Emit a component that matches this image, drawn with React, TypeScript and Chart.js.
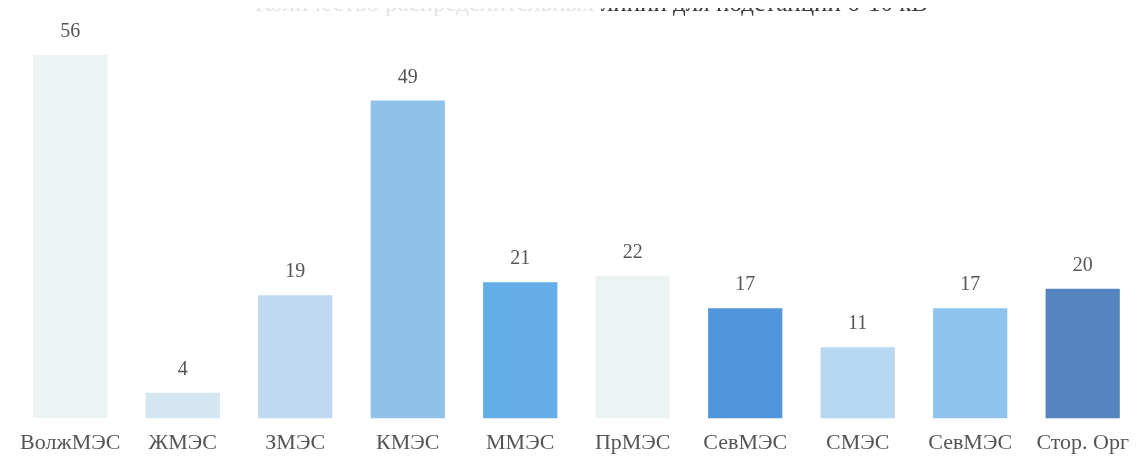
import React, { useEffect, useRef } from "react";
import { Chart, registerables } from "chart.js";

Chart.register(...registerables);

const categories = [
  "ВолжМЭС",
  "ЖМЭС",
  "ЗМЭС",
  "КМЭС",
  "ММЭС",
  "ПрМЭС",
  "СевМЭС",
  "СМЭС",
  "СевМЭС",
  "Стор. Орг",
];
const values = [56, 4, 19, 49, 21, 22, 17, 11, 17, 20];
const barColors = [
  "#edf2f3",
  "#d3e6f2",
  "#bfdaf0",
  "#8fc1ea",
  "#63aee6",
  "#edf2f3",
  "#4f96dd",
  "#b8d8f2",
  "#8ec3ee",
  "#5585bf",
];
const titleFaint = "Количество распределительных ";
const titleDark = "линий для подстанций 6-10 кВ";

const FONT = "'Liberation Serif', 'Times New Roman', serif";

const titlePlugin = {
  id: "cutTitle",
  afterDraw(chart: any) {
    const ctx = chart.ctx;
    ctx.save();
    ctx.font = `25px ${FONT}`;
    ctx.textBaseline = "alphabetic";
    ctx.textAlign = "left";
    const w1 = ctx.measureText(titleFaint).width;
    const w2 = ctx.measureText(titleDark).width;
    const end = 928;
    const start = end - w1 - w2;
    ctx.fillStyle = "#e4e4e4";
    ctx.fillText(titleFaint, start, 11);
    ctx.fillStyle = "#3a3a3a";
    ctx.fillText(titleDark, start + w1, 11);
    ctx.restore();
  },
};

const valueLabelPlugin = {
  id: "valueLabels",
  afterDatasetsDraw(chart: any) {
    const ctx = chart.ctx;
    const meta = chart.getDatasetMeta(0);
    ctx.save();
    ctx.font = `20px ${FONT}`;
    ctx.fillStyle = "#555555";
    ctx.textAlign = "center";
    ctx.textBaseline = "middle";
    meta.data.forEach((bar: any, i: number) => {
      ctx.fillText(String(values[i]), bar.x, bar.y - 23);
    });
    ctx.restore();
  },
};

export default function App() {
  const ref = useRef<HTMLCanvasElement>(null);
  useEffect(() => {
    if (!ref.current) return;
    const chart = new Chart(ref.current, {
      type: "bar",
      data: {
        labels: categories,
        datasets: [
          {
            data: values,
            backgroundColor: barColors,
            borderWidth: 0,
            categoryPercentage: 1,
            barPercentage: 0.66,
          },
        ],
      },
      options: {
        animation: false,
        responsive: false,
        layout: { padding: { left: 14, right: 0, top: 29, bottom: 3 } },
        plugins: {
          legend: { display: false },
          tooltip: { enabled: false },
          title: { display: false },
        },
        scales: {
          x: {
            grid: { display: false, drawTicks: false },
            border: { display: false },
            ticks: {
              color: "#555555",
              padding: 11,
              font: { family: FONT, size: 22 },
              maxRotation: 0,
              autoSkip: false,
            },
          },
          y: {
            display: false,
            min: 0,
            max: 60,
          },
        },
      },
      plugins: [titlePlugin, valueLabelPlugin],
    });
    return () => chart.destroy();
  }, []);
  return (
    <div style={{ margin: "-8px", width: 1137, height: 470, overflow: "hidden", background: "#ffffff" }}>
      <canvas ref={ref} width={1140} height={470} style={{ display: "block" }} />
    </div>
  );
}
